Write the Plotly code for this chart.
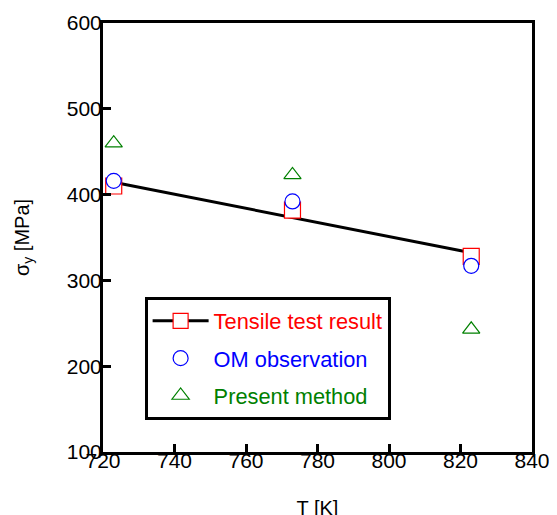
import numpy as np
import plotly.graph_objects as go

# Data
T = [723, 773, 823]
tensile = [410, 382, 328]
om = [416, 392, 317]
present = [460, 423, 243]

x_ticks = [720, 740, 760, 780, 800, 820, 840]
y_ticks = [100, 200, 300, 400, 500, 600]

coef = np.polyfit(T, tensile, 1)
fit_x = [T[0], T[-1]]
fit_y = list(np.polyval(coef, fit_x))

FONT = "Liberation Sans, Arial, sans-serif"
RED = "#ff0000"
BLUE = "#0000ff"
GREEN = "#008000"

fig = go.Figure()
fig.add_trace(go.Scatter(x=fit_x, y=fit_y, mode="lines",
                         line=dict(color="black", width=3), showlegend=False))
fig.add_trace(go.Scatter(x=T, y=tensile, mode="markers", showlegend=False,
                         marker=dict(symbol="square", size=16, color="white",
                                     line=dict(color=RED, width=1.2))))
fig.add_trace(go.Scatter(x=T, y=om, mode="markers", showlegend=False,
                         marker=dict(symbol="circle", size=15, color="white",
                                     line=dict(color=BLUE, width=1.2))))
fig.add_trace(go.Scatter(x=T, y=present, mode="markers", showlegend=False,
                         marker=dict(symbol="triangle-up", size=15, color="rgba(0,0,0,0)",
                                     line=dict(color=GREEN, width=1.2))))

# legend entries
fig.add_trace(go.Scatter(x=[None], y=[None], mode="lines+markers", legendgroup="a",
                         name='<span style="color:#ff0000">Tensile test result</span>',
                         line=dict(color="black", width=3),
                         marker=dict(symbol="square", size=15, color="white",
                                     line=dict(color=RED, width=1.2))))
fig.add_trace(go.Scatter(x=[None], y=[None], mode="markers", legendgroup="b",
                         name='<span style="color:#0000ff">OM observation</span>',
                         marker=dict(symbol="circle", size=15, color="white",
                                     line=dict(color=BLUE, width=1.2))))
fig.add_trace(go.Scatter(x=[None], y=[None], mode="markers", legendgroup="c",
                         name='<span style="color:#008000">Present method</span>',
                         marker=dict(symbol="triangle-up", size=15, color="white",
                                     line=dict(color=GREEN, width=1.2))))

axis_common = dict(showline=True, linecolor="black", linewidth=3, mirror=True,
                   ticks="inside", ticklen=8, tickwidth=3, tickcolor="black",
                   showgrid=False, zeroline=False,
                   tickfont=dict(family=FONT, size=21, color="black"))

fig.update_xaxes(range=[720, 840], tickvals=x_ticks, ticklabelstandoff=-12,
                 title=dict(text="T [K]", font=dict(family=FONT, size=20, color="black"), standoff=30),
                 **axis_common)
fig.update_yaxes(range=[100, 600], tickvals=y_ticks, ticklabelstandoff=-6,
                 title=dict(text="σ<sub>y</sub> [MPa]", font=dict(family=FONT, size=20, color="black"), standoff=32),
                 **axis_common)

fig.update_layout(
    width=557, height=515,
    margin=dict(l=94.5, r=32.7, t=15, b=70.5, autoexpand=False),
    paper_bgcolor="white", plot_bgcolor="white",
    font=dict(family=FONT, size=20, color="black"),
    legend=dict(x=0.097, y=0.361, xanchor="left", yanchor="top",
                bordercolor="black", borderwidth=3, bgcolor="white",
                tracegroupgap=6, itemwidth=56,
                font=dict(family=FONT, size=21.8)),
)

fig.write_html("out.html")
